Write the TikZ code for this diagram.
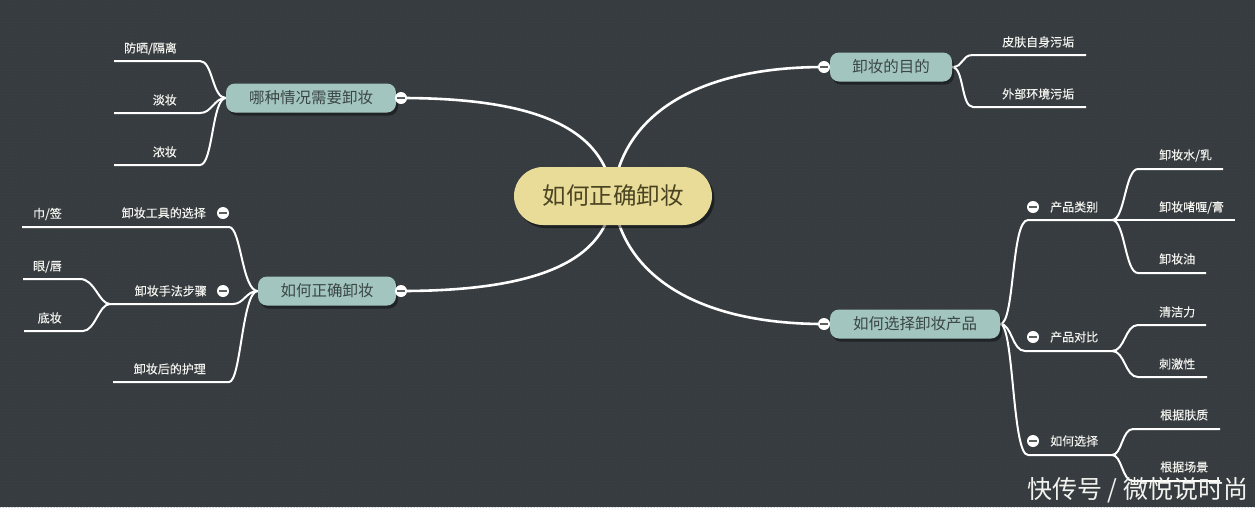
\documentclass[tikz,border=0pt]{standalone}
\usepackage{fontspec}
\setmainfont{Noto Sans CJK SC}
\newfontfamily\leaffont{Noto Sans CJK SC}[FakeBold=0.35]
\usetikzlibrary{shadows,patterns}
\definecolor{bgc}{HTML}{373D40}
\definecolor{dotc}{HTML}{2E3336}
\definecolor{topicfill}{HTML}{A3C5BF}
\definecolor{topictext}{HTML}{3A4644}
\definecolor{centralfill}{HTML}{E8DC98}
\definecolor{centraltext}{HTML}{4A4422}
\definecolor{leaftext}{HTML}{F2F2EE}
\definecolor{minusc}{HTML}{5A5F60}
\pgfdeclarelayer{bgl}
\pgfdeclarelayer{lines}
\pgfsetlayers{bgl,lines,main}
\begin{document}
\begin{tikzpicture}[x=1pt,y=-1pt,
  central/.style={fill=centralfill, text=centraltext, rounded corners=29pt,
    minimum width=198pt, minimum height=58pt, inner sep=0pt,
    font=\fontsize{23.5}{26}\selectfont,
    drop shadow={shadow xshift=2.5pt, shadow yshift=-3pt, fill=black, opacity=0.45}},
  topic/.style={fill=topicfill, text=topictext, rounded corners=9pt,
    minimum height=29pt, inner sep=0pt,
    font=\fontsize{15.5}{18}\selectfont,
    drop shadow={shadow xshift=2pt, shadow yshift=-3pt, fill=black, opacity=0.4}},
  leaf/.style={text=leaftext, inner sep=0pt, font=\leaffont\fontsize{12}{14}\selectfont},
  collapse/.style={circle, fill=white, minimum size=12pt, inner sep=0pt,
    path picture={\draw[line width=1.7pt, minusc]
      ([xshift=-3.6pt]path picture bounding box.center) --
      ([xshift=3.6pt]path picture bounding box.center);}},
  mainline/.style={draw=white, line width=2.6pt},
  subline/.style={draw=white, line width=2pt},
  watermark/.style={text=leaftext, inner sep=0pt, font=\fontsize{25}{28}\selectfont}
]
\useasboundingbox (0,0) rectangle (1255,507);
\begin{pgfonlayer}{bgl}
  \fill[bgc] (0,0) rectangle (1255,507);
  \fill[pattern=dots, pattern color=dotc] (0,0) rectangle (1255,507);
\end{pgfonlayer}

% central and main topics
\node[central] (c) at (613,196) {如何正确卸妆};
\node[topic, minimum width=170pt] (t1) at (311,98) {哪种情况需要卸妆};
\node[topic, minimum width=122pt] (t2) at (891,67) {卸妆的目的};
\node[topic, minimum width=138pt] (t3) at (327,291) {如何正确卸妆};
\node[topic, minimum width=170pt] (t4) at (915,324) {如何选择卸妆产品};
\node[collapse] (k1) at (401,98) {};
\node[collapse] (k2) at (824,67) {};
\node[collapse] (k3) at (401,291) {};
\node[collapse] (k4) at (824,324) {};

% ---- t1 leaves
\coordinate (a11) at (114,61);  \coordinate (b11) at (200,61);
\coordinate (a12) at (114,113); \coordinate (b12) at (200,113);
\coordinate (a13) at (114,165); \coordinate (b13) at (200,165);
\node[leaf, anchor=base east] (n11) at (177,52.5) {防晒/隔离};
\node[leaf, anchor=base east] (n12) at (177,104.5) {淡妆};
\node[leaf, anchor=base east] (n13) at (177,156.5) {浓妆};

% ---- t2 leaves
\coordinate (a21) at (973,55);  \coordinate (b21) at (1086,55);
\coordinate (a22) at (973,107); \coordinate (b22) at (1086,107);
\node[leaf, anchor=base west] (n21) at (1002,46.5) {皮肤自身污垢};
\node[leaf, anchor=base west] (n22) at (1002,98.5) {外部环境污垢};

% ---- t3 leaves
\coordinate (j3) at (110,227);
\coordinate (b31) at (229,227); \coordinate (a31) at (22,227);
\node[leaf, anchor=base east] (n31) at (206,217.5) {卸妆工具的选择};
\node[collapse] (ks1) at (223,213) {};
\node[leaf, anchor=base east] (n311) at (62,218) {巾/签};
\coordinate (j32) at (110,304); \coordinate (b32) at (233,304);
\node[leaf, anchor=base east] (n32) at (207,295.5) {卸妆手法步骤};
\node[collapse] (ks2) at (223,291) {};
\coordinate (a321) at (23,279); \coordinate (b321) at (80,279);
\coordinate (a322) at (24,331); \coordinate (b322) at (83,331);
\node[leaf, anchor=base east] (n321) at (62,270.5) {眼/唇};
\node[leaf, anchor=base east] (n322) at (62,322.5) {底妆};
\coordinate (a33) at (113,382); \coordinate (b33) at (229,382);
\node[leaf, anchor=base east] (n33) at (206,373.5) {卸妆后的护理};

% ---- t4 leaves
\coordinate (a41) at (1028,220); \coordinate (j41) at (1112,220);
\node[collapse] (ks3) at (1033,207) {};
\node[leaf, anchor=base west] (n41) at (1050,211.5) {产品类别};
\coordinate (a411) at (1138,169); \coordinate (b411) at (1223,169);
\coordinate (b412) at (1235,220);
\coordinate (a413) at (1138,273); \coordinate (b413) at (1206,273);
\node[leaf, anchor=base west] (n411) at (1159,159.5) {卸妆水/乳};
\node[leaf, anchor=base west] (n412) at (1159,211.5) {卸妆啫喱/膏};
\node[leaf, anchor=base west] (n413) at (1159,263.5) {卸妆油};

\coordinate (a42) at (1025,351); \coordinate (j42) at (1112,351);
\node[collapse] (ks4) at (1033,337) {};
\node[leaf, anchor=base west] (n42) at (1050,341.5) {产品对比};
\coordinate (a421) at (1138,325); \coordinate (b421) at (1206,325);
\coordinate (a422) at (1138,377); \coordinate (b422) at (1207,377);
\node[leaf, anchor=base west] (n421) at (1159,316.5) {清洁力};
\node[leaf, anchor=base west] (n422) at (1159,368.5) {刺激性};

\coordinate (a43) at (1028,455); \coordinate (j43) at (1112,455);
\node[collapse] (ks5) at (1033,441) {};
\node[leaf, anchor=base west] (n43) at (1050,445.5) {如何选择};
\coordinate (a431) at (1133,429); \coordinate (b431) at (1220,429);
\coordinate (a432) at (1133,481); \coordinate (b432) at (1220,481);
\node[leaf, anchor=base west] (n431) at (1160,419.5) {根据肤质};
\node[leaf, anchor=base west] (n432) at (1160,471.5) {根据场景};

% watermark
\node[watermark] (wm) at (1137.5,490) {快传号 / 微悦说时尚};

\begin{pgfonlayer}{lines}
  % main branches
  \draw[mainline] (c.center) .. controls (605,130) and (540,98) .. (k1.center);
  \draw[mainline] (c.center) .. controls (620,120) and (690,67) .. (k2.center);
  \draw[mainline] (c.center) .. controls (607,260) and (540,291) .. (k3.center);
  \draw[mainline] (c.center) .. controls (620,270) and (690,324) .. (k4.center);
  % t1
  \draw[subline] (t1.west) .. controls (212,98) and (213,61) .. (b11) -- (a11);
  \draw[subline] (t1.west) .. controls (214,98) and (212,113) .. (b12) -- (a12);
  \draw[subline] (t1.west) .. controls (212,98) and (213,165) .. (b13) -- (a13);
  % t2
  \draw[subline] (t2.east) .. controls (964,67) and (961,55) .. (a21) -- (b21);
  \draw[subline] (t2.east) .. controls (964,67) and (961,107) .. (a22) -- (b22);
  % t3
  \draw[subline] (t3.west) .. controls (242,291) and (241,227) .. (b31) -- (j3) -- (a31);
  \draw[subline] (t3.west) .. controls (246,291) and (244,304) .. (b32) -- (j32);
  \draw[subline] (j32) .. controls (99,304) and (95,279) .. (b321) -- (a321);
  \draw[subline] (j32) .. controls (99,304) and (95,331) .. (b322) -- (a322);
  \draw[subline] (t3.west) .. controls (242,291) and (241,382) .. (b33) -- (a33);
  % t4
  \draw[subline] (t4.east) .. controls (1015,324) and (1011,220) .. (a41) -- (j41);
  \draw[subline] (j41) .. controls (1125,220) and (1125,169) .. (a411) -- (b411);
  \draw[subline] (j41) -- (b412);
  \draw[subline] (j41) .. controls (1125,220) and (1125,273) .. (a413) -- (b413);
  \draw[subline] (t4.east) .. controls (1012,324) and (1012,351) .. (a42) -- (j42);
  \draw[subline] (j42) .. controls (1125,351) and (1125,325) .. (a421) -- (b421);
  \draw[subline] (j42) .. controls (1125,351) and (1125,377) .. (a422) -- (b422);
  \draw[subline] (t4.east) .. controls (1014,324) and (1012,455) .. (a43) -- (j43);
  \draw[subline] (j43) .. controls (1122,455) and (1122,429) .. (a431) -- (b431);
  \draw[subline] (j43) .. controls (1122,455) and (1122,481) .. (a432) -- (b432);
\end{pgfonlayer}
\end{tikzpicture}
\end{document}
